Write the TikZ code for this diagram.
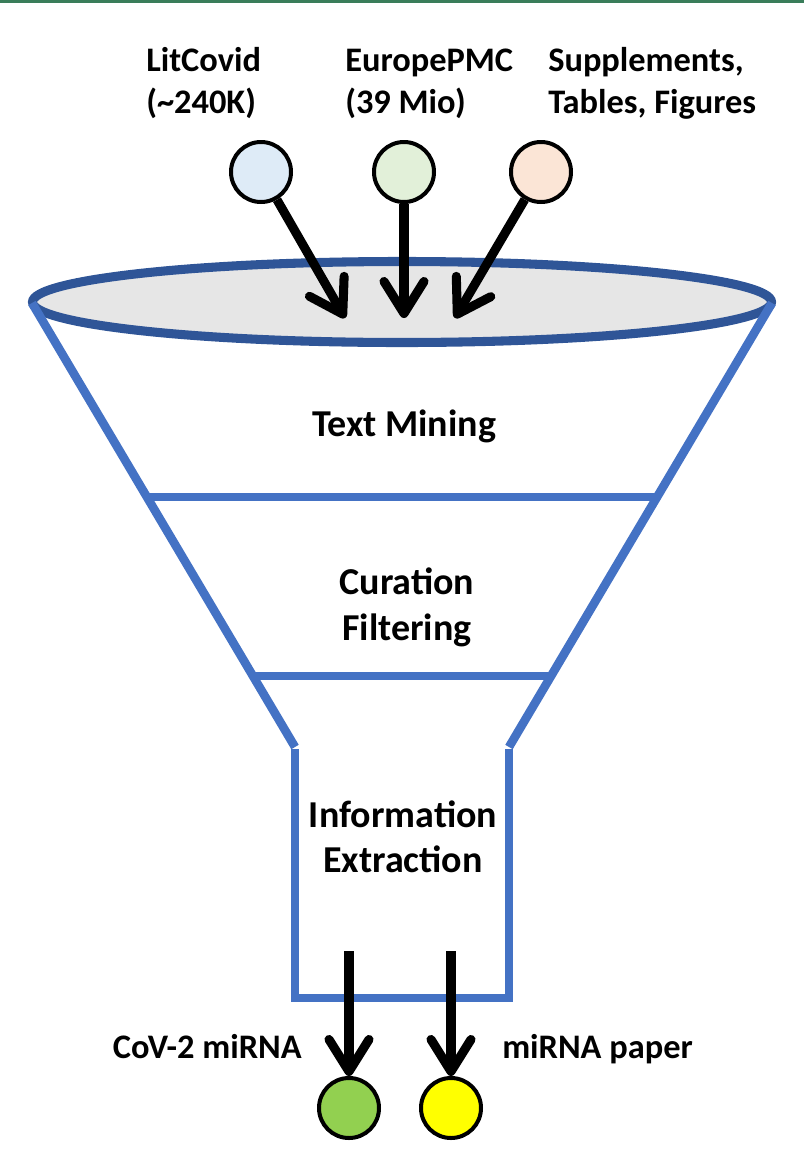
\documentclass[tikz,border=0pt]{standalone}
\usepackage{fontspec}
\setmainfont{Carlito}
\usetikzlibrary{arrows.meta}
\definecolor{funnelblue}{HTML}{4472C4}
\definecolor{rimblue}{HTML}{2F5597}
\definecolor{rimgrey}{HTML}{E6E6E6}
\definecolor{litblue}{HTML}{DEEBF7}
\definecolor{pmcgreen}{HTML}{E2F0D9}
\definecolor{suppsand}{HTML}{FBE5D6}
\definecolor{covgreen}{HTML}{92D050}
\definecolor{paperyellow}{HTML}{FFFF00}
\definecolor{framegreen}{HTML}{3A7D5A}

\begin{document}
\begin{tikzpicture}[x=0.75pt, y=-0.75pt,
    src/.style={draw, circle, line width=3pt, minimum size=45pt, inner sep=0pt},
    feed/.style={-{Straight Barb[length=24pt, width=30pt, line cap=round, line join=round]}, line width=6.8pt},
    wall/.style={funnelblue, line width=6.5pt},
    lbl/.style={font=\bfseries\fontsize{25.8}{31}\selectfont, inner sep=0pt, align=left},
    stage/.style={font=\bfseries\fontsize{28.5}{34}\selectfont, inner sep=0pt, align=center}]
    \useasboundingbox (0,0) rectangle (804,1153);
    \draw[framegreen, line width=2pt] (0,1.3) -- (804,1.3);

    \node[lbl, anchor=base west] (litlbl) at (146,113) {LitCovid\\(\textasciitilde240K)};
    \node[lbl, anchor=base west] (pmclbl) at (345,113) {EuropePMC\\(39 Mio)};
    \node[lbl, anchor=base west] (supplbl) at (548,113) {Supplements,\\Tables, Figures};

    \node[src, fill=litblue] (lit) at (261,172) {};
    \node[src, fill=pmcgreen] (pmc) at (404,172) {};
    \node[src, fill=suppsand] (supp) at (541,172) {};

    \draw[rimblue, fill=rimgrey, line width=6.8pt] (402,302) ellipse [x radius=369.5, y radius=40.5];
    \draw[wall] (32,303) -- (295,747);
    \draw[wall] (772,303) -- (509,747);
    \draw[wall] (147,497) -- (657,497);
    \draw[wall] (253,676) -- (551,676);
    \draw[wall, line join=miter] (295,749) -- (295,998) -- (509,998) -- (509,749);

    \coordinate (litend) at (345,318);
    \coordinate (pmcend) at (404,318);
    \coordinate (suppend) at (455,318);
    \draw[feed] (lit) -- (litend);
    \draw[feed] (pmc) -- (pmcend);
    \draw[feed] (supp) -- (suppend);

    \node[stage] (mining) at (404,426.5) {Text Mining};
    \node[stage] (curation) at (407,607.5) {Curation\\Filtering};
    \node[stage] (extract) at (403,836.5) {Information\\Extraction};

    \node[src, fill=covgreen] (cov) at (349,1108) {};
    \node[src, fill=paperyellow] (paper) at (451,1108) {};
    \coordinate (covstart) at (349,951);
    \coordinate (paperstart) at (451,951);
    \draw[feed] (covstart) -- (cov);
    \draw[feed] (paperstart) -- (paper);

    \node[lbl, anchor=base east] (covlbl) at (302,1058) {CoV-2 miRNA};
    \node[lbl, anchor=base west] (paperlbl) at (502,1058) {miRNA paper};
\end{tikzpicture}
\end{document}
